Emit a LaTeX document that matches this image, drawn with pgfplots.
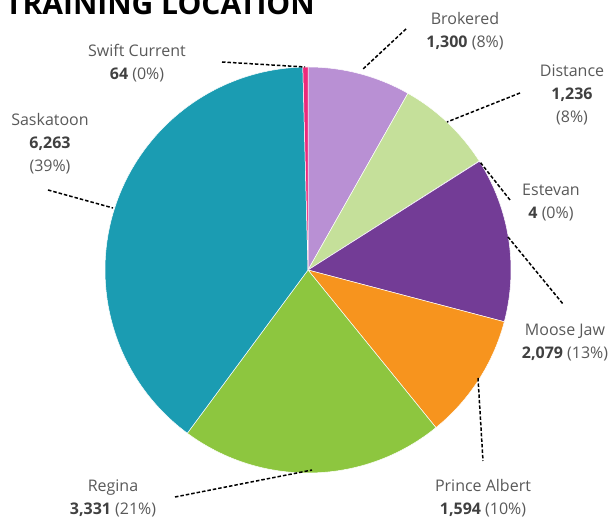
\documentclass[border=0pt]{standalone}
\usepackage{pgfplots}
\pgfplotsset{compat=1.18}
\usepackage{pgfplotstable}
\usepackage{fontspec}
\setmainfont{Open Sans}
\definecolor{cBrok}{HTML}{B990D4}
\definecolor{cDist}{HTML}{C5E09A}
\definecolor{cEste}{HTML}{4B2A6B}
\definecolor{cMoos}{HTML}{733C96}
\definecolor{cPrin}{HTML}{F7941E}
\definecolor{cRegi}{HTML}{8DC63F}
\definecolor{cSask}{HTML}{1B9CB2}
\definecolor{cSwif}{HTML}{EC2A7B}
\definecolor{lbl}{HTML}{595959}
\definecolor{num}{HTML}{404040}
\pgfplotstableread[col sep=comma]{
name,value,color
Brokered,1300,cBrok
Distance,1236,cDist
Estevan,4,cEste
Moose Jaw,2079,cMoos
Prince Albert,1594,cPrin
Regina,3331,cRegi
Saskatoon,6263,cSask
Swift Current,64,cSwif
}\piedata
\begin{document}
\begin{tikzpicture}
\begin{axis}[x=1pt,y=1pt,xmin=-308,xmax=304,ymin=-248,ymax=270,
  hide axis,scale only axis,clip=false,name=ax]
\def\total{15871}
\def\cum{0}
\pgfplotsforeachungrouped \i in {0,...,7}{%
  \pgfplotstablegetelem{\i}{value}\of\piedata \let\val\pgfplotsretval
  \pgfplotstablegetelem{\i}{color}\of\piedata \let\col\pgfplotsretval
  \pgfmathsetmacro\a{90-\cum/\total*360}%
  \pgfmathsetmacro\b{90-(\cum+\val)/\total*360}%
  \pgfmathsetmacro\xa{203*cos(\a)}%
  \pgfmathsetmacro\ya{203*sin(\a)}%
  \edef\cmd{\noexpand\fill[\col,draw=white,line width=0.5pt] (axis cs:0,0) -- (axis cs:\xa,\ya) arc[start angle=\a,end angle=\b,radius=203pt] -- cycle;}%
  \cmd
  \pgfmathsetmacro\cum{\cum+\val}%
}
% leader lines
\begin{scope}[black,line width=1.5pt,dash pattern=on 3.5pt off 2pt]
\draw (axis cs:-86,208) -- (axis cs:-3,203);
\draw (axis cs:-260,80) -- (axis cs:-195,62);
\draw (axis cs:98,241) -- (axis cs:54,200);
\draw (axis cs:212,177) -- (axis cs:139,148);
\draw (axis cs:202,70) -- (axis cs:172,108);
\draw (axis cs:200,33) -- (axis cs:255,-34);
\draw (axis cs:170,-108) -- (axis cs:175,-191);
\draw (axis cs:-133,-227) -- (axis cs:4,-200);
\end{scope}
\begin{scope}[every node/.style={align=center,font=\fontsize{16}{23}\selectfont,text=lbl}]
\node at (axis cs:-171,206.5) {Swift Current\\{\color{num}\bfseries 64} (0\%)};
\node at (axis cs:-258,126) {Saskatoon\\{\color{num}\bfseries 6,263}\\(39\%)};
\node at (axis cs:157,238.5) {Brokered\\{\color{num}\bfseries 1,300} (8\%)};
\node at (axis cs:264,175) {Distance\\{\color{num}\bfseries 1,236}\\(8\%)};
\node at (axis cs:243,67.5) {Estevan\\{\color{num}\bfseries 4} (0\%)};
\node at (axis cs:257,-72.5) {Moose Jaw\\{\color{num}\bfseries 2,079} (13\%)};
\node at (axis cs:175,-228.5) {Prince Albert\\{\color{num}\bfseries 1,594} (10\%)};
\node at (axis cs:-195,-228.5) {Regina\\{\color{num}\bfseries 3,331} (21\%)};
\end{scope}
\node[anchor=base west,font=\fontsize{30}{34}\selectfont\bfseries,text=black,inner sep=0pt] at (axis cs:-303,255) {TRAINING LOCATION};
\end{axis}
\pgfresetboundingbox
\useasboundingbox (ax.south west) rectangle (ax.north east);
\end{tikzpicture}
\end{document}
